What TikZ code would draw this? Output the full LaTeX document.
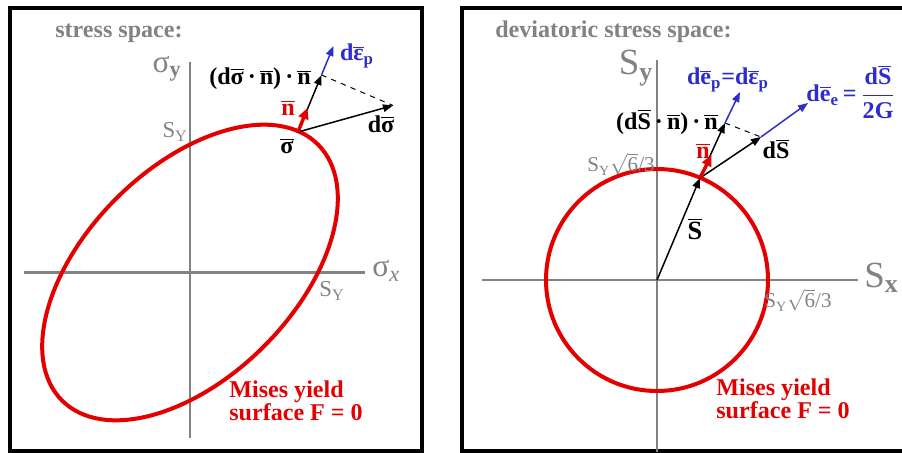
\documentclass[tikz,border=0pt]{standalone}
\usepackage{fontspec}
\setmainfont{Liberation Serif}
\usetikzlibrary{arrows.meta}
\definecolor{cred}{RGB}{228,0,0}
\definecolor{cblue}{RGB}{45,45,205}
\definecolor{cgrey}{RGB}{130,130,130}
\newcommand{\ovl}[1]{\ensuremath{\overline{\mbox{#1}}}}
\newcommand{\rtsix}{\ensuremath{\sqrt{\mbox{6}}}}
\tikzset{
  every picture/.style={x=0.2mm, y=-0.2mm},
  panel/.style={draw=black, line width=0.8mm},
  axis/.style={draw=cgrey, line width=0.55mm},
  yieldline/.style={draw=cred, line width=0.8mm},
  vec/.style={-{Triangle[length=2mm, width=1.5mm]}, draw=#1, line width=0.3mm},
  vec/.default=black,
  nvec/.style={-{Triangle[length=2.2mm, width=2mm]}, draw=cred, line width=0.7mm},
  title/.style={font=\bfseries\fontsize{13.7}{16}\selectfont, text=cgrey, inner sep=0pt},
  axlabel/.style={font=\fontsize{18}{20}\selectfont, text=cgrey, inner sep=0pt},
  ticklabel/.style={font=\fontsize{#1}{15}\selectfont, text=cgrey, inner sep=0pt},
  ticklabel/.default=13,
  lbl/.style={font=\bfseries\fontsize{13.7}{16}\selectfont, text=#1, inner sep=0pt},
  lbl/.default=black,
  note/.style={font=\bfseries\fontsize{13.7}{13.2}\selectfont, text=cred, align=left, inner sep=0pt},
}
\begin{document}
\begin{tikzpicture}
  \useasboundingbox (0,0) rectangle (902,452);
  \clip (0,0) rectangle (902,452);
  % left: stress space
  \draw[panel] (9.5,8) rectangle (422,451);
  \coordinate (lO) at (190,272.5);
  \draw[axis] (190,62) -- (190,438);
  \draw[axis] (24,272.5) -- (365,272.5);
  \draw[yieldline, rotate around={45:(lO)}] (lO) ellipse [x radius=181, y radius=104.5];
  \node[title, anchor=west] (ltitle) at (55,33) {stress space:};
  \node[axlabel] (lsy) at (167,69) {σ\textsubscript{\bfseries y}};
  \node[axlabel, anchor=west] (lsx) at (372,271) {σ\textsubscript{\itshape x}};
  \node[ticklabel, anchor=east] (lSYy) at (188,132) {S\textsubscript{Y}};
  \node[ticklabel, anchor=west] (lSYx) at (319,291) {S\textsubscript{Y}};
  \coordinate (sig) at (298,132);
  \coordinate (ntip) at (307.5,108);
  \coordinate (proj) at (321.5,75);
  \coordinate (eps) at (333.5,46);
  \coordinate (dsig) at (393,105.5);
  \draw[dashed, line width=0.2mm] (proj) -- (dsig);
  \draw[vec] (sig) -- (dsig);
  \draw[vec] (sig) -- (proj);
  \draw[vec=cblue] (proj) -- (eps);
  \draw[nvec] (sig) -- (ntip);
  \node[lbl] (lprojl) at (260,79) {(d\ovl{σ}\,·\,\ovl{n})\,·\,\ovl{n}};
  \node[lbl=cblue] (leps) at (357,56) {d\ovl{ε}\textsubscript{p}};
  \node[lbl=cred] (ln) at (288,108) {\ovl{n}};
  \node[lbl] (ldsig) at (381,124) {d\ovl{σ}};
  \node[lbl] (lsig) at (287,146) {\ovl{σ}};
  \node[note, anchor=west] (lnote) at (229,401) {Mises yield\\surface F = 0};
  % right: deviatoric stress space
  \draw[panel] (462,8) rectangle (910,451);
  \coordinate (rO) at (657,280);
  \draw[axis] (657,60) -- (657,452);
  \draw[axis] (482,280) -- (858,280);
  \draw[yieldline] (rO) circle [radius=111];
  \node[title, anchor=west] (rtitle) at (495,32) {deviatoric stress space:};
  \node[axlabel, font=\fontsize{21}{22}\selectfont] (rsy) at (636,68) {S\textsubscript{\bfseries y}};
  \node[axlabel, font=\fontsize{21}{22}\selectfont, anchor=west] (rsx) at (864,278) {S\textsubscript{\bfseries x}};
  \node[ticklabel=12, anchor=east] (rSYy) at (655,164) {S\textsubscript{Y}\rtsix/3};
  \node[ticklabel=12, anchor=west] (rSYx) at (764,300) {S\textsubscript{Y}\rtsix/3};
  \coordinate (S) at (700,178);
  \coordinate (rntip) at (711.5,155);
  \coordinate (rproj) at (725,123);
  \coordinate (ep) at (740,92);
  \coordinate (dS) at (761,137);
  \coordinate (ee) at (808,103);
  \draw[vec] (rO) -- (S);
  \draw[dashed, line width=0.2mm] (rproj) -- (dS);
  \draw[vec] (S) -- (dS);
  \draw[vec=cblue] (dS) -- (ee);
  \draw[vec] (S) -- (rproj);
  \draw[vec=cblue] (rproj) -- (ep);
  \draw[nvec] (S) -- (rntip);
  \node[lbl, font=\bfseries\fontsize{15}{16}\selectfont] (rSl) at (695,229) {\ovl{S}};
  \node[lbl] (rprojl) at (667,122) {(d\ovl{S}\,·\,\ovl{n})\,·\,\ovl{n}};
  \node[lbl=cred] (rn) at (703,151) {\ovl{n}};
  \node[lbl] (rdS) at (776,149) {d\ovl{S}};
  \node[lbl=cblue] (rep) at (728,80) {d\ovl{e}\textsubscript{p}=d\ovl{ε}\textsubscript{p}};
  \node[lbl=cblue] (ree) at (851,92) {d\ovl{e}\textsubscript{e}\,=\,$\displaystyle\frac{\mbox{d\ovl{S}}}{\mbox{2G}}$};
  \node[note, anchor=west] (rnote) at (716,399) {Mises yield\\surface F = 0};
\end{tikzpicture}
\end{document}
